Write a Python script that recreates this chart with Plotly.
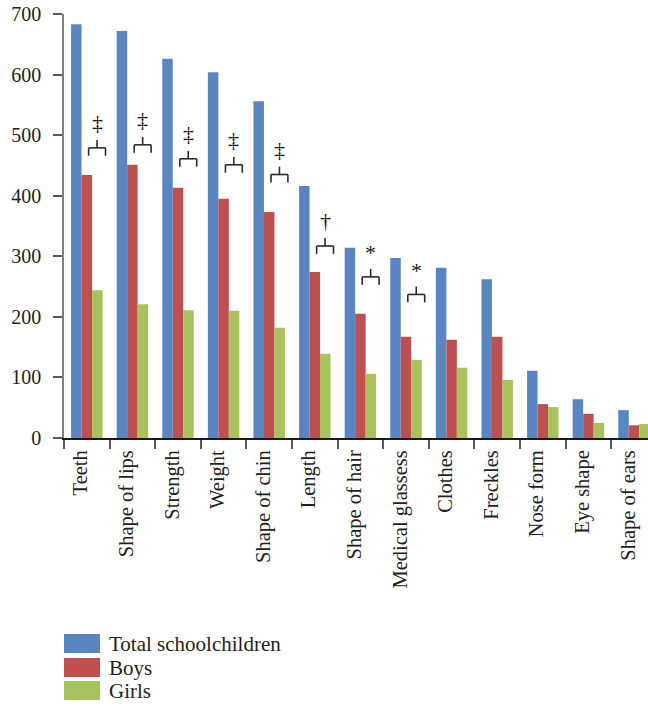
import plotly.graph_objects as go

categories = ["Teeth", "Shape of lips", "Strength", "Weight", "Shape of chin", "Length",
              "Shape of hair", "Medical glassess", "Clothes", "Freckles", "Nose form",
              "Eye shape", "Shape of ears"]
total = [683, 672, 626, 604, 556, 416, 314, 297, 281, 262, 111, 64, 46]
boys = [434, 451, 413, 395, 373, 274, 205, 167, 162, 167, 56, 40, 21]
girls = [244, 221, 211, 210, 182, 139, 106, 129, 116, 96, 51, 25, 23]
series_names = ["Total schoolchildren", "Boys", "Girls"]

# significance markers (Boys vs Girls)
sig_categories = ["Teeth", "Shape of lips", "Strength", "Weight", "Shape of chin",
                  "Length", "Shape of hair", "Medical glassess"]
sig_symbols = ["‡", "‡", "‡", "‡", "‡", "†", "*", "*"]
sig_levels = [479, 484, 461, 451, 435, 317, 266, 237]

colors = ["#5886C3", "#C0504F", "#A6C45B"]
FONT = "Liberation Serif"
TXT = "#231F20"

W, H = 648, 706
ML, MR, MT, MB = 64, 0, 14, 268
plot_w = W - ML - MR
plot_h = H - MT - MB
cat_px = 45.6

fig = go.Figure()
for name, vals, col in zip(series_names, [total, boys, girls], colors):
    fig.add_trace(go.Bar(x=categories, y=vals, name=name, marker_color=col,
                         marker_line_width=0, showlegend=False))

# brackets
leg = 13
for cat, sym, lvl in zip(sig_categories, sig_symbols, sig_levels):
    i = categories.index(cat)
    x0, x1 = i + 0.04, i + 0.41
    xm = (x0 + x1) / 2
    line = dict(color="#2B2B2B", width=1.6)
    fig.add_shape(type="line", xref="x", yref="y", x0=x0, x1=x1, y0=lvl, y1=lvl, line=line)
    fig.add_shape(type="line", xref="x", yref="y", x0=x0, x1=x0, y0=lvl, y1=lvl - leg, line=line)
    fig.add_shape(type="line", xref="x", yref="y", x0=x1, x1=x1, y0=lvl, y1=lvl - leg, line=line)
    fig.add_shape(type="line", xref="x", yref="y", x0=xm, x1=xm, y0=lvl, y1=lvl + leg, line=line)
    fig.add_annotation(x=xm, y=lvl + 42 if sym != "*" else lvl + 40, xref="x", yref="y",
                       text=sym, showarrow=False, yanchor="middle",
                       font=dict(family=FONT, size=22, color="#1A1A1A"))

# manual legend (pixel positions -> paper coords)
def px_to_paper_x(px):
    return (px - ML) / plot_w

def px_to_paper_y(py):
    return (H - MB - py) / plot_h

legend_rows = [634, 658, 681]
for name, col, top in zip(series_names, colors, legend_rows):
    fig.add_shape(type="rect", xref="paper", yref="paper",
                  x0=px_to_paper_x(64), x1=px_to_paper_x(100),
                  y0=px_to_paper_y(top), y1=px_to_paper_y(top + 19),
                  fillcolor=col, line_width=0)
    fig.add_annotation(xref="paper", yref="paper", x=px_to_paper_x(107),
                       y=px_to_paper_y(top + 9.5), text=name, showarrow=False,
                       xanchor="left", yanchor="middle",
                       font=dict(family=FONT, size=21, color=TXT))

fig.update_layout(
    width=W, height=H,
    margin=dict(l=ML, r=MR, t=MT, b=MB, pad=0, autoexpand=False),
    paper_bgcolor="white", plot_bgcolor="white",
    barmode="group", bargap=0.31, bargroupgap=0,
    font=dict(family=FONT, size=20, color=TXT),
    showlegend=False,
)
fig.update_xaxes(
    type="category", range=[-0.5, -0.5 + plot_w / cat_px], automargin=False,
    tickson="boundaries", ticks="outside", ticklen=9, tickwidth=1.5, tickcolor="#595959",
    tickangle=-90, ticklabelshift=-6, ticklabelstandoff=2,
    showline=True, linecolor="#1A1A1A", linewidth=2,
    showgrid=False, tickfont=dict(family=FONT, size=20.5, color=TXT),
)
fig.update_yaxes(
    range=[0, 700], dtick=100, ticks="outside", ticklen=9, tickwidth=1.5, automargin=False,
    ticklabelstandoff=8, ticklabeloverflow="allow",
    tickcolor="#595959", showline=True, linecolor="#7F7F7F", linewidth=1.5,
    showgrid=False, zeroline=False, tickfont=dict(family=FONT, size=20, color=TXT),
)

fig.write_html("out.html", config={"displayModeBar": False},
               post_script="document.body.style.margin='0';document.body.style.overflow='hidden';")
